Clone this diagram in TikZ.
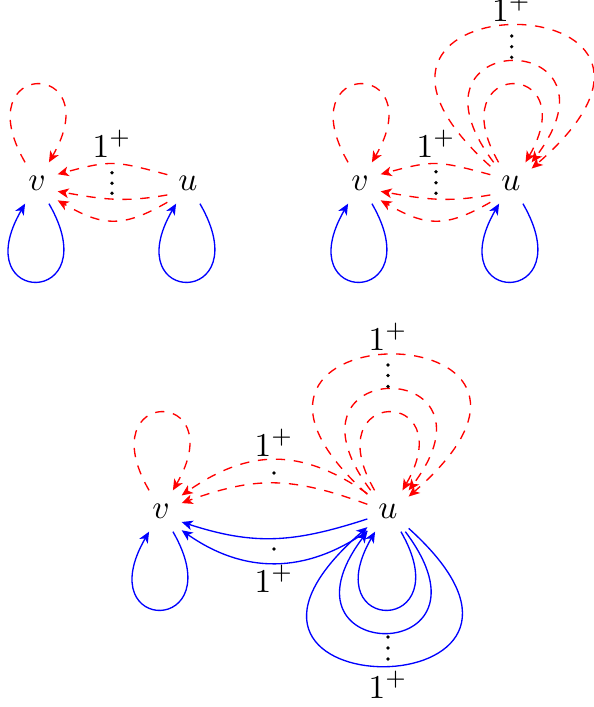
\documentclass[tikz,border=0pt]{standalone}
\usetikzlibrary{arrows.meta}
\begin{document}
\begin{tikzpicture}[x=0.3pt,y=0.3pt,
  vert/.style={rectangle,inner sep=0pt,minimum size=12pt},
  tipstyle/.style={-{Stealth[length=3.3pt,width=2.9pt,inset=0.9pt]}},
  redarc/.style={red,dash pattern=on 2.8pt off 2.6pt,tipstyle},
  bluearc/.style={blue,tipstyle},
  dotmark/.style={circle,fill=black,inner sep=0pt,minimum size=1.1pt},
  lab/.style={anchor=base,inner sep=0pt}]
\useasboundingbox (0,0) rectangle (593,-707);

% ---------- diagram 1 ----------
\node[vert] (v1) at (37,-183) {$v$};
\node[vert] (u1) at (188,-183) {$u$};
\draw[redarc] (v1.120) .. controls +(120:120) and +(60:120) .. (v1.60);
\draw[bluearc] (v1.-60) .. controls +(-60:120) and +(-120:120) .. (v1.-120);
\draw[bluearc] (u1.-60) .. controls +(-60:120) and +(-120:120) .. (u1.-120);
\draw[redarc] (u1.158) .. controls +(165:55) and +(15:55) .. (v1.23);
\draw[redarc] (u1.210) .. controls +(190:45) and +(-10:45) .. (v1.-22);
\draw[redarc] (u1.223) .. controls +(210:52) and +(-30:52) .. (v1.-40);
\node[dotmark] (d1a) at (112,-172.7) {};
\node[dotmark] (d1b) at (112,-183.3) {};
\node[dotmark] (d1c) at (112,-193.3) {};
\node[lab] (l1) at (112,-157) {$1^+$};

% ---------- diagram 2 ----------
\node[vert] (v2) at (360,-183) {$v$};
\node[vert] (u2) at (511,-183) {$u$};
\draw[redarc] (v2.120) .. controls +(120:120) and +(60:120) .. (v2.60);
\draw[bluearc] (v2.-60) .. controls +(-60:120) and +(-120:120) .. (v2.-120);
\draw[bluearc] (u2.-60) .. controls +(-60:120) and +(-120:120) .. (u2.-120);
\draw[redarc] (u2.158) .. controls +(165:55) and +(15:55) .. (v2.23);
\draw[redarc] (u2.210) .. controls +(190:45) and +(-10:45) .. (v2.-22);
\draw[redarc] (u2.223) .. controls +(210:52) and +(-30:52) .. (v2.-40);
\node[dotmark] (d2a) at (436,-171.7) {};
\node[dotmark] (d2b) at (436,-182.7) {};
\node[dotmark] (d2c) at (436,-193.3) {};
\node[lab] (l2) at (436,-157) {$1^+$};
\draw[redarc] (u2.121) .. controls +(120:120) and +(60:120) .. (u2.55);
\draw[redarc] (u2.130) .. controls +(127:170) and +(53:168) .. (u2.45);
\draw[redarc] (u2.141) .. controls +(138:283) and +(41:290) .. (u2.35);
\node[dotmark] (d2d) at (511.7,-36) {};
\node[dotmark] (d2e) at (511.7,-46.7) {};
\node[dotmark] (d2f) at (511.7,-57.3) {};
\node[lab] (l2t) at (511.5,-21) {$1^+$};

% ---------- diagram 3 ----------
\node[vert] (v3) at (161,-511) {$v$};
\node[vert] (u3) at (388,-511) {$u$};
\draw[redarc] (v3.120) .. controls +(120:120) and +(60:120) .. (v3.60);
\draw[bluearc] (v3.-60) .. controls +(-60:120) and +(-120:120) .. (v3.-120);
\draw[redarc] (u3.140) .. controls +(145:81) and +(35:81) .. (v3.37);
\draw[redarc] (u3.162) .. controls +(160:80) and +(20:80) .. (v3.21);
\draw[bluearc] (u3.201) .. controls +(198:77) and +(-18:77) .. (v3.-28);
\draw[bluearc] (u3.224) .. controls +(215:76) and +(-35:76) .. (v3.-43);
\node[dotmark] (d3a) at (274,-473) {};
\node[lab] (l3a) at (274,-456) {$1^+$};
\node[dotmark] (d3b) at (274,-549) {};
\node[lab] (l3b) at (274,-592) {$1^+$};
\draw[redarc] (u3.123) .. controls +(120:120) and +(60:120) .. (u3.55);
\draw[redarc] (u3.130) .. controls +(127:170) and +(53:168) .. (u3.45);
\draw[redarc] (u3.141) .. controls +(138:280) and +(41:287) .. (u3.35);
\node[dotmark] (d3c) at (388,-365) {};
\node[dotmark] (d3d) at (388,-375.5) {};
\node[dotmark] (d3e) at (388,-386.5) {};
\node[lab] (l3t) at (388,-350) {$1^+$};
\draw[bluearc] (u3.-58) .. controls +(-60:120) and +(-120:120) .. (u3.-122);
\draw[bluearc] (u3.-50) .. controls +(-53:170) and +(-127:168) .. (u3.-135);
\draw[bluearc] (u3.-40) .. controls +(-42:275) and +(-139:282) .. (u3.-142);
\node[dotmark] (d3f) at (388,-637) {};
\node[dotmark] (d3g) at (388,-648) {};
\node[dotmark] (d3h) at (388,-659) {};
\node[lab] (l3c) at (388,-698) {$1^+$};
\end{tikzpicture}
\end{document}
